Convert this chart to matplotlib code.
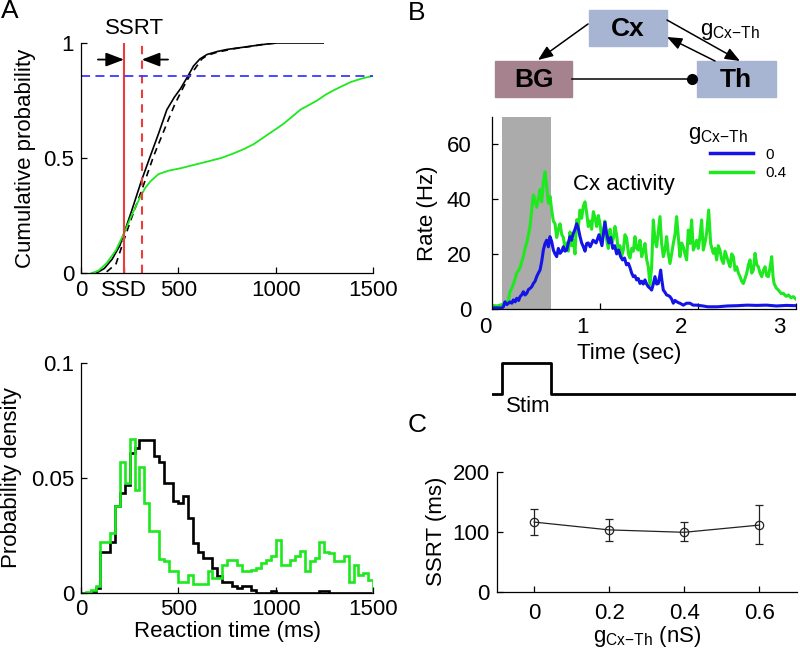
import numpy as np
import matplotlib.pyplot as plt
from matplotlib.lines import Line2D
from matplotlib.patches import Rectangle
from matplotlib.transforms import ScaledTranslation

plt.rcParams['font.family'] = ['Liberation Sans', 'DejaVu Sans']
plt.rcParams['mathtext.fontset'] = 'custom'
plt.rcParams['mathtext.rm'] = 'Liberation Sans'
plt.rcParams['font.size'] = 16

GREEN = '#1ee81e'
BLUE = '#1414e6'
RED = '#ee3c3c'
G_LABEL = r'$\mathregular{g_{Cx{-}Th}}$'

# ---- panel A (top): cumulative RT distributions ----
go_t = [80, 120, 160, 200, 221, 260, 312, 355, 400, 441, 480, 510, 545, 578,
        610, 647, 700, 750, 820, 887, 950, 1007, 1244]
go_p = [0, 0.02, 0.06, 0.12, 0.173, 0.27, 0.405, 0.506, 0.61, 0.71, 0.765, 0.80,
        0.85, 0.90, 0.93, 0.95, 0.963, 0.972, 0.98, 0.988, 0.995, 1.0, 1.0]
go2_t = [132, 180, 221, 260, 312, 372, 441, 480, 527, 560, 587, 620, 647, 700,
         784, 870, 956, 1007]
go2_p = [0.005, 0.04, 0.145, 0.24, 0.36, 0.506, 0.65, 0.73, 0.81, 0.86, 0.89,
         0.93, 0.946, 0.96, 0.975, 0.985, 0.997, 1.0]
stop_t = [55, 90, 132, 180, 221, 260, 304, 330, 355, 398, 450, 510, 580, 647,
          720, 784, 840, 887, 956, 1000, 1042, 1085, 1127, 1170, 1213, 1256,
          1299, 1340, 1385, 1440, 1500]
stop_p = [0, 0.01, 0.043, 0.1, 0.173, 0.25, 0.33, 0.37, 0.397, 0.43, 0.445,
          0.455, 0.47, 0.484, 0.50, 0.52, 0.54, 0.56, 0.60, 0.625, 0.65, 0.68,
          0.71, 0.73, 0.75, 0.775, 0.795, 0.812, 0.83, 0.845, 0.857]
ssd = 221
ssrt_a = 91
p_thresh = 0.857

# ---- panel A (bottom): RT histograms, 25 ms bins ----
bin_edges = np.arange(0, 1525, 25)
go_density = [0, 0, 0.001, 0.002, 0.018, 0.018, 0.022, 0.038, 0.0435, 0.047,
              0.061, 0.063, 0.0667, 0.0667, 0.0667, 0.0594, 0.057, 0.048, 0.048,
              0.04, 0.039, 0.042, 0.0326, 0.0217, 0.018, 0.0152, 0.0152, 0.011,
              0.0072, 0.005, 0.005, 0.003, 0.002, 0.003, 0.003, 0.0015, 0, 0, 0,
              0.0007, 0, 0, 0, 0, 0, 0, 0, 0, 0, 0.0007, 0.0007, 0, 0, 0, 0, 0,
              0, 0, 0, 0]
stop_density = [0, 0.0005, 0.0015, 0.003, 0.022, 0.022, 0.026, 0.038, 0.057,
                0.048, 0.067, 0.045, 0.055, 0.039, 0.027, 0.027, 0.015, 0.014,
                0.0095, 0.0095, 0.005, 0.005, 0.008, 0.004, 0.004, 0.004, 0.0094,
                0.0065, 0.0065, 0.0123, 0.0145, 0.0145, 0.0123, 0.0094, 0.0094,
                0.0101, 0.0109, 0.013, 0.0145, 0.016, 0.0232, 0.0123, 0.0123,
                0.0145, 0.016, 0.0184, 0.0097, 0.0138, 0.0152, 0.0222, 0.018,
                0.0174, 0.0138, 0.0138, 0.016, 0.005, 0.0123, 0.008, 0.0087,
                0.0058]

# ---- panel B: Cx firing rate ----
t_g04 = [-0.1, -0.05, 0.0, 0.03, 0.065, 0.08, 0.1, 0.116, 0.135, 0.15, 0.17,
         0.184, 0.2, 0.218, 0.235, 0.252, 0.27, 0.286, 0.303, 0.32, 0.337, 0.354,
         0.371, 0.388, 0.405, 0.422, 0.439, 0.456, 0.473, 0.49, 0.507, 0.524,
         0.541, 0.558, 0.575, 0.592, 0.61, 0.626, 0.643, 0.66, 0.677, 0.694,
         0.71, 0.728, 0.745, 0.762, 0.78, 0.796, 0.813, 0.83, 0.847, 0.864,
         0.88, 0.898, 0.915, 0.932, 0.95, 0.966, 0.983, 1.0, 1.017, 1.034, 1.05,
         1.068, 1.085, 1.102, 1.12, 1.136, 1.153, 1.17, 1.187, 1.204, 1.22,
         1.238, 1.255, 1.272, 1.29, 1.306, 1.323, 1.34, 1.357, 1.374, 1.391,
         1.408, 1.425, 1.442, 1.459, 1.476, 1.493, 1.51, 1.527, 1.544, 1.561,
         1.578, 1.595, 1.612, 1.629, 1.646, 1.663, 1.68, 1.697, 1.714, 1.731,
         1.748, 1.765, 1.782, 1.799, 1.816, 1.833, 1.85, 1.867, 1.884, 1.901,
         1.918, 1.935, 1.952, 1.969, 1.986, 2.003, 2.02, 2.037, 2.054, 2.071,
         2.088, 2.109, 2.129, 2.156, 2.173, 2.19, 2.207, 2.224, 2.241, 2.259,
         2.276, 2.293, 2.31, 2.327, 2.344, 2.361, 2.378, 2.395, 2.412, 2.429,
         2.446, 2.463, 2.48, 2.497, 2.514, 2.531, 2.548, 2.565, 2.582, 2.6,
         2.616, 2.633, 2.65, 2.667, 2.684, 2.701, 2.718, 2.735, 2.752, 2.765,
         2.776, 2.8, 2.82, 2.85, 2.871, 2.9, 2.922, 2.95, 2.973, 3.0]
rate_g04 = [1.2, 1.0, 1.5, 2.0, 3.0, 6, 7.5, 9, 11, 13, 14, 15, 17, 19, 22, 24,
            27, 30, 36, 41.5, 39.5, 37, 40, 43.5, 39, 46, 50, 44.5, 38.5, 41, 36,
            32, 31, 26, 29, 31, 27, 26, 22, 24, 21, 28, 23, 25, 20, 32.5, 30, 36,
            33, 37.5, 39, 35, 30, 32, 29, 35.4, 33, 30, 34, 31, 26, 28, 32, 25,
            22, 29, 24, 25.5, 30, 26.8, 21, 23, 19, 21.4, 27, 25.8, 20, 18.5, 22,
            21, 26.3, 22, 21.4, 25, 19, 21, 23.8, 18, 15.3, 8.6, 15.3, 32.4, 25,
            22.6, 28, 33.6, 23.8, 19, 21.4, 26.3, 20.2, 16.5, 20, 23.8, 27, 33.6,
            26.3, 19, 24, 22.6, 20, 17.8, 28.7, 23.8, 32.4, 21.4, 23, 25, 22,
            26.3, 32.4, 21.4, 24, 27.5, 36, 23.8, 20.2, 22, 17.8, 23, 21.4, 18,
            16.5, 21, 19, 17, 15.3, 20, 19, 14, 15.3, 13, 11.7, 10, 9.2, 11, 12.9,
            16, 17.8, 13, 14.1, 20.2, 16, 15.3, 13, 11.7, 14, 15.3, 12, 11.7, 15,
            19, 12, 9.2, 7.5, 6.8, 5.5, 5.6, 4.5, 5, 4, 4.4, 3.5]
t_g0 = [-0.1, 0.0, 0.014, 0.03, 0.05, 0.082, 0.1, 0.116, 0.135, 0.15, 0.17,
        0.184, 0.2, 0.218, 0.235, 0.252, 0.27, 0.286, 0.303, 0.32, 0.337, 0.354,
        0.371, 0.388, 0.405, 0.422, 0.439, 0.456, 0.473, 0.49, 0.507, 0.524,
        0.541, 0.558, 0.575, 0.592, 0.61, 0.626, 0.643, 0.66, 0.677, 0.694,
        0.71, 0.728, 0.745, 0.762, 0.779, 0.796, 0.813, 0.83, 0.847, 0.864,
        0.88, 0.9, 0.93, 0.96, 0.99, 1.02, 1.05, 1.07, 1.09, 1.11, 1.13, 1.15,
        1.17, 1.19, 1.21, 1.23, 1.25, 1.27, 1.29, 1.306, 1.323, 1.34, 1.357,
        1.374, 1.391, 1.408, 1.425, 1.442, 1.459, 1.476, 1.493, 1.51, 1.527,
        1.544, 1.561, 1.578, 1.595, 1.61, 1.619, 1.629, 1.646, 1.663, 1.68,
        1.697, 1.714, 1.731, 1.748, 1.765, 1.782, 1.799, 1.816, 1.85, 1.884,
        1.918, 1.95, 1.986, 2.05, 2.1, 2.2, 2.3, 2.4, 2.5, 2.6, 2.7, 2.8, 2.9,
        3.0]
rate_g0 = [0.3, 0.3, 0.7, 2.5, 1.5, 2.5, 2, 3.2, 2.5, 3.8, 3, 4.4, 5, 6.2, 5,
           5.6, 7, 7.4, 8, 9.2, 10, 11.7, 13, 14.1, 17.2, 21.4, 23.8, 25, 22.6,
           26.3, 24.5, 21.4, 20, 19, 22, 20.2, 21, 22.6, 21, 21.4, 24, 26.3, 25,
           27.5, 29, 31, 29.3, 26.3, 24, 22.6, 21, 23.8, 24, 22.6, 25, 24, 27, 23,
           31.5, 27, 24, 26, 22, 23, 20, 21.4, 19, 17.8, 18.5, 16, 16.5, 15, 13,
           11.7, 12, 10.5, 11, 9.2, 10, 9, 10.5, 9, 8, 7.5, 6.8, 9, 11.7, 9, 9.2,
           12, 14.1, 11, 6.8, 6, 5, 4.8, 4.4, 3.5, 2, 3, 2.6, 2.2, 2, 1.3, 2, 2,
           1.3, 1.3, 1, 0.7, 0.7, 1, 1.1, 1.3, 1.2, 1.3, 1.0, 1.2, 1.1]
stim_t = [-0.1, 0.0, 0.5, 3.0]
stim_on = [0, 1, 0, 0]

# ---- panel C: SSRT vs coupling ----
g_cx_th = [0, 0.2, 0.4, 0.6]
ssrt_mean = [116, 103, 99, 111]
ssrt_err_lo = [21, 19, 15, 32]
ssrt_err_hi = [22, 18, 17, 33]


def style(ax, xpad, ypad):
    for side in ('top', 'right'):
        ax.spines[side].set_visible(False)
    for side in ('left', 'bottom'):
        ax.spines[side].set_linewidth(0.9)
    ax.tick_params(axis='x', direction='in', length=4, width=0.9, pad=xpad)
    ax.tick_params(axis='y', direction='in', length=4, width=0.9, pad=ypad)


W, H = 800, 651


def box(left, top, right, bottom):
    return [left / W, 1 - bottom / H, (right - left) / W, (bottom - top) / H]


fig = plt.figure(figsize=(8, 6.51), dpi=100)

# overlay in pixel units for the panel letters and the circuit sketch
axo = fig.add_axes([0, 0, 1, 1])
axo.set_xlim(0, W)
axo.set_ylim(H, 0)
axo.axis('off')
for letter, x, y in [('A', 10, 11), ('B', 417, 13), ('C', 417, 425)]:
    axo.text(x, y, letter, fontsize=19, ha='center', va='center')

cx_col, bg_col = '#a7b5d3', '#a6818e'
axo.add_patch(Rectangle((589, 10), 78, 36, color=cx_col))
axo.add_patch(Rectangle((495, 61), 77, 36, color=bg_col))
axo.add_patch(Rectangle((697, 61), 79, 36, color=cx_col))
axo.text(628, 29, 'Cx', fontsize=19, fontweight='bold', ha='center', va='center')
axo.text(534, 80, 'BG', fontsize=19, fontweight='bold', ha='center', va='center')
axo.text(736, 80, 'Th', fontsize=19, fontweight='bold', ha='center', va='center')
head = dict(arrowstyle='-|>,head_length=0.9,head_width=0.36', mutation_scale=10,
            color='k', lw=1.1, shrinkA=0, shrinkB=0)
axo.annotate('', xy=(538, 60), xytext=(588, 24), arrowprops=head)
axo.annotate('', xy=(667, 37), xytext=(715, 61), arrowprops=head)
axo.annotate('', xy=(740, 61), xytext=(667, 20), arrowprops=head)
axo.plot([572, 692], [79, 79], color='k', lw=1.1)
axo.plot([692], [79], 'o', color='k', ms=7)
axo.text(700, 31, G_LABEL, fontsize=16, ha='left', va='center')

# panel A top
ax1 = fig.add_axes(box(81, 43, 373, 273))
ax1.plot(go_t, go_p, color='k', lw=1.2)
ax1.plot(go2_t, go2_p, color='k', lw=1.2, ls=(0, (4, 3)))
ax1.plot(stop_t, stop_p, color=GREEN, lw=1.3)
ax1.axvline(ssd, color=RED, lw=1.5)
ax1.axvline(ssd + ssrt_a, color=RED, lw=1.5, ls=(0, (4, 3)))
ax1.axhline(p_thresh, color='#3a3aff', lw=1.3, ls=(0, (5, 3)))
arr = dict(arrowstyle='-|>,head_length=1.1,head_width=0.42', mutation_scale=10,
           color='k', lw=1.3, shrinkA=0, shrinkB=0)
ax1.annotate('', xy=(ssd, 0.928), xytext=(87, 0.928), arrowprops=arr,
             annotation_clip=False)
ax1.annotate('', xy=(ssd + ssrt_a, 0.928), xytext=(447, 0.928), arrowprops=arr,
             annotation_clip=False)
ax1.text(275, 1.065, 'SSRT', ha='center', va='center', clip_on=False)
ax1.set_xlim(0, 1500)
ax1.set_ylim(0, 1)
ax1.set_xticks([0, ssd, 500, 1000, 1500], ['0', 'SSD', '500', '1000', '1500'])
ax1.set_yticks([0, 0.5, 1], ['0', '0.5', '1'])
ax1.set_ylabel('Cumulative probability', labelpad=5)
style(ax1, 5, 5)

# panel A bottom
ax2 = fig.add_axes(box(81, 363, 373, 593))
ax2.stairs(go_density, bin_edges, color='k', lw=1.9)
ax2.stairs(stop_density, bin_edges, color=GREEN, lw=1.9)
ax2.set_xlim(0, 1500)
ax2.set_ylim(0, 0.1)
ax2.set_xticks([0, 500, 1000, 1500])
ax2.set_yticks([0, 0.05, 0.1], ['0', '0.05', '0.1'])
ax2.set_xlabel('Reaction time (ms)', labelpad=1)
ax2.set_ylabel('Probability density', labelpad=6)
style(ax2, 4, 5)

# panel B
axb = fig.add_axes(box(492.2, 116.9, 796, 308.7))
axb.axvspan(0, 0.5, color='#ababab', lw=0)
axb.plot(t_g04, rate_g04, color=GREEN, lw=2.2)
axb.plot(t_g0, rate_g0, color=BLUE, lw=2.2)
axb.set_xlim(-0.1, 3.0)
axb.set_ylim(0, 70)
axb.set_xticks([0, 1, 2, 3])
axb.set_yticks([0, 20, 40, 60])
axb.set_ylabel('Rate (Hz)', labelpad=6)
axb.set_xlabel('Time (sec)')
style(axb, 6, 15)
shift = ScaledTranslation(-0.17, 0, fig.dpi_scale_trans)
for lab in axb.get_xticklabels():
    lab.set_transform(lab.get_transform() + shift)
axb.xaxis.set_label_coords(0.45, -0.18)
axb.text(0.435, 0.645, 'Cx activity', transform=axb.transAxes,
         ha='center', va='center')
axb.text(0.644, 0.905, G_LABEL, transform=axb.transAxes,
         ha='left', va='center', fontsize=16)
handles = [Line2D([], [], color=BLUE, lw=2.5), Line2D([], [], color=GREEN, lw=2.5)]
axb.legend(handles, ['0', '0.4'], fontsize=11, frameon=False, loc='upper left',
           bbox_to_anchor=(0.717, 0.84), borderpad=0, borderaxespad=0,
           handlelength=2.8, handletextpad=0.8, labelspacing=0.3)

# stimulus trace
axs = fig.add_axes(box(492.2, 357, 796, 400))
axs.plot(stim_t, stim_on, color='k', lw=2, drawstyle='steps-post')
axs.set_xlim(-0.1, 3.0)
axs.set_ylim(-0.195, 1.205)
axs.axis('off')
axs.text(0.265, -0.42, 'Stim', ha='center', va='center', clip_on=False)

# panel C
axc = fig.add_axes(box(496.7, 471.7, 796.7, 591.7))
axc.errorbar(g_cx_th, ssrt_mean, yerr=[ssrt_err_lo, ssrt_err_hi], color='#222222',
             lw=0.9, elinewidth=0.9, marker='o', ms=6, mfc='none', mew=0.9,
             capsize=3)
axc.set_xlim(-0.1, 0.7)
axc.set_ylim(0, 200)
axc.set_xticks(g_cx_th, ['0', '0.2', '0.4', '0.6'])
axc.set_yticks([0, 100, 200])
axc.set_xlabel(G_LABEL + ' (nS)', labelpad=0)
axc.set_ylabel('SSRT (ms)', labelpad=4)
style(axc, 8, 5)

fig.savefig('out.png', dpi=100)
